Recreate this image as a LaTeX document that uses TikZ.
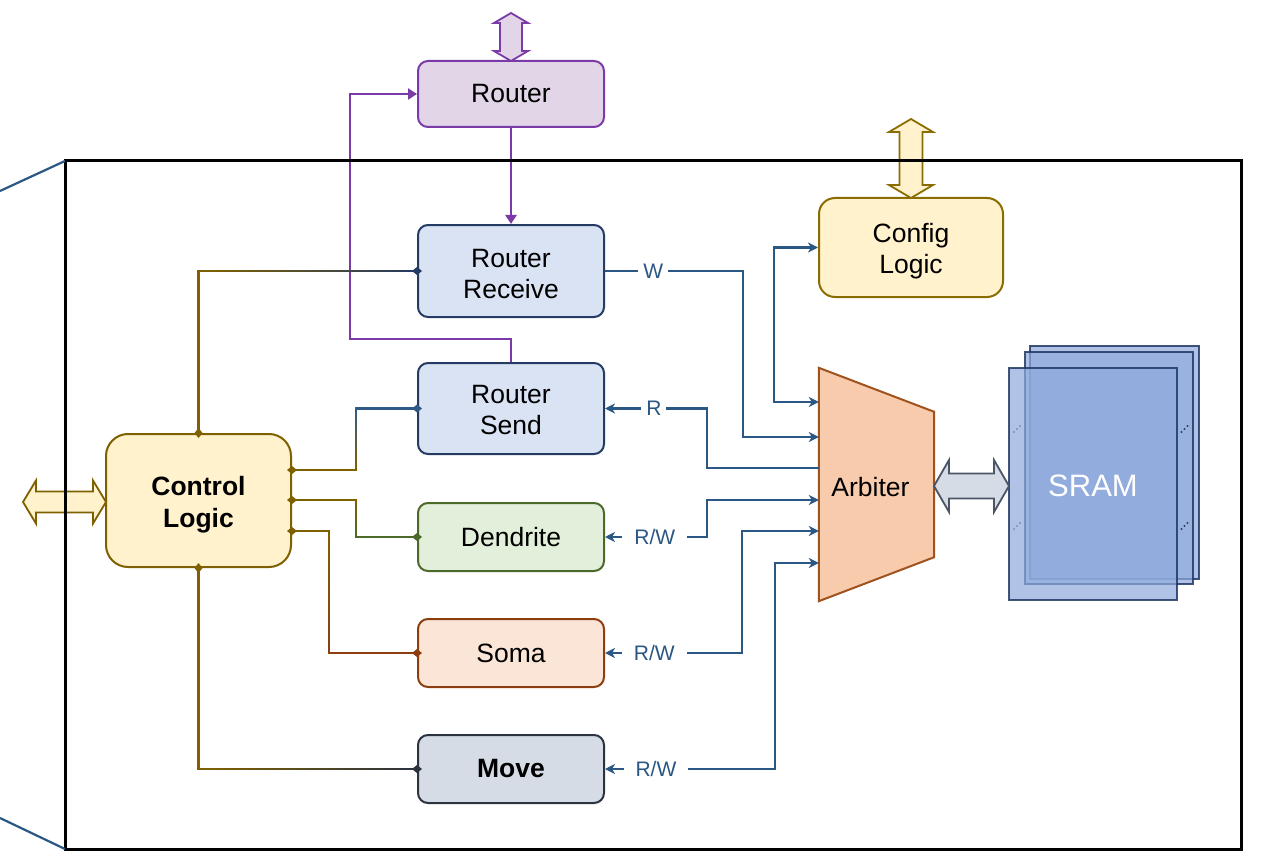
\documentclass[tikz,border=0pt]{standalone}
\usepackage{fontspec}
\setmainfont{Liberation Sans}
\usetikzlibrary{arrows.meta,calc}
\definecolor{blueline}{HTML}{2A5783}
\definecolor{purp}{HTML}{7A3BA8}
\definecolor{routerfill}{HTML}{E1D5E7}
\definecolor{bluefill}{HTML}{DAE3F3}
\definecolor{navy}{HTML}{243B63}
\definecolor{sendblue}{HTML}{2F5A88}
\definecolor{dendfill}{HTML}{E2EFDA}
\definecolor{dendgreen}{HTML}{4B6A2A}
\definecolor{somafill}{HTML}{FBE5D6}
\definecolor{somarust}{HTML}{8C3E10}
\definecolor{movefill}{HTML}{D6DCE5}
\definecolor{movedark}{HTML}{2B3340}
\definecolor{ctrlfill}{HTML}{FFF2CC}
\definecolor{ctrlbrown}{HTML}{7F6000}
\definecolor{configbrown}{HTML}{8A6D00}
\definecolor{arbfill}{HTML}{F8CBAD}
\definecolor{arbline}{HTML}{A0521E}
\definecolor{sramfill}{HTML}{8FAADC}
\definecolor{sramline}{HTML}{1F3864}
\definecolor{slate}{HTML}{4A5568}
\definecolor{dotl}{HTML}{7F90B0}
\definecolor{dotr}{HTML}{2F3F5F}

\newcommand\gradline[4]{%
  \foreach \i in {0,...,23}{%
    \pgfmathtruncatemacro\pp{100*\i/23}%
    \draw[line width=2.2pt, color=#4!\pp!#3] ($(#1)!\i/24!(#2)$) -- ($(#1)!{(\i+1)/24}!(#2)$);
  }}
\newcommand\fatH[7]{\draw[#7] (#1,#3) -- ({#1+#4},{#3-#5}) -- ({#1+#4},{#3-#6}) -- ({#2-#4},{#3-#6}) -- ({#2-#4},{#3-#5}) -- (#2,#3) -- ({#2-#4},{#3+#5}) -- ({#2-#4},{#3+#6}) -- ({#1+#4},{#3+#6}) -- ({#1+#4},{#3+#5}) -- cycle;}
\newcommand\fatV[7]{\draw[#7] (#1,#2) -- ({#1-#5},{#2+#4}) -- ({#1-#6},{#2+#4}) -- ({#1-#6},{#3-#4}) -- ({#1-#5},{#3-#4}) -- (#1,#3) -- ({#1+#5},{#3-#4}) -- ({#1+#6},{#3-#4}) -- ({#1+#6},{#2+#4}) -- ({#1+#5},{#2+#4}) -- cycle;}

\tikzset{
  txt/.style={font=\fontsize{26.5}{31}\selectfont},
  btxt/.style={font=\fontsize{26.5}{32}\selectfont\bfseries},
  box/.style={draw, line width=2pt, rounded corners=10pt, minimum width=186pt, align=center,
    txt, inner sep=0pt},
  lbl/.style={fill=white, text=blueline, font=\fontsize{21}{24}\selectfont, inner xsep=5pt, inner ysep=2pt},
  lblw/.style={lbl, inner xsep=12pt},
  bl/.style={draw=blueline, line width=2.2pt},
  pu/.style={draw=purp, line width=2.2pt},
  ct/.style={draw=ctrlbrown, line width=2.2pt, shorten <=-5pt, shorten >=-5pt},
  fat/.style={line width=1.8pt, line join=miter},
}

\begin{document}
\begin{tikzpicture}[x=1pt,y=-1pt]
\useasboundingbox (0,0) rectangle (1262,856);

% nodes
\node[box, fill=routerfill, draw=purp, minimum height=66pt] (router) at (511,94) {Router};
\node[box, fill=bluefill, draw=navy, minimum height=92pt,
  label={[txt, align=center, yshift=-3pt]center:Router\\Receive}] (rrecv) at (511,271) {};
\node[box, fill=bluefill, draw=navy, minimum height=91pt,
  label={[txt, align=center, yshift=-2pt]center:Router\\Send}] (rsend) at (511,408.5) {};
\node[box, fill=dendfill, draw=dendgreen, minimum height=68pt] (dend) at (511,537) {Dendrite};
\node[box, fill=somafill, draw=somarust, minimum height=68pt] (soma) at (511,653) {Soma};
\node[box, fill=movefill, draw=movedark, minimum height=68pt, btxt] (move) at (511,769) {Move};
\node[box, fill=ctrlfill, draw=ctrlbrown, rounded corners=22pt, minimum width=185pt, minimum height=133pt,
  label={[btxt, align=center, yshift=-4pt]center:Control\\Logic}] (ctrl) at (198.5,500.5) {};
\node[box, fill=ctrlfill, draw=configbrown, rounded corners=16pt, minimum width=184pt, minimum height=99pt,
  label={[txt, align=center, yshift=-3.5pt]center:Config\\Logic}] (config) at (911,247.5) {};

% arbiter
\node[minimum width=115pt, minimum height=233pt, inner sep=0pt] (arb) at (876.5,484.5) {};
\draw[fill=arbfill, draw=arbline, line width=2pt] (arb.north west) -- ([yshift=-44pt]arb.north east)
  -- ([yshift=44pt]arb.south east) -- (arb.south west) -- cycle;
\node[txt] (arbtext) at (870.5,487) {Arbiter};

% SRAM
\tikzset{sram/.style={draw=sramline, draw opacity=0.85, line width=2pt, fill=sramfill, fill opacity=0.7, inner sep=0pt}}
\node[sram, minimum width=169pt, minimum height=233pt] (s3) at (1114.5,462.5) {};
\node[sram, minimum width=168pt, minimum height=232pt] (s2) at (1109,468) {};
\node[sram, minimum width=168pt, minimum height=232pt] (s1) at (1093,484) {};
\node[text=white, font=\fontsize{31}{36}\selectfont] (sramtext) at (1093,486) {SRAM};
\foreach \px/\py/\c in {1017/429/dotl, 1017/526/dotl, 1184.5/429/dotr, 1184.5/526/dotr}{
  \foreach \d in {-1,0,1}{\fill[\c] ({\px+3*\d},{\py-3*\d}) circle (1.2pt);}
}

% fat arrows
\fatV{511}{13}{61}{10}{17}{11}{fat, fill=routerfill, draw=purp}
\fatV{911}{119}{198}{13}{22}{11.5}{fat, fill=ctrlfill, draw=configbrown}
\fatH{23}{106}{502}{13}{21.5}{10.5}{fat, fill=ctrlfill, draw=ctrlbrown}
\fatH{934}{1009}{486}{15}{26}{12.5}{fat, fill=movefill, draw=slate}

% purple connectors
\draw[pu, -{Triangle[length=9pt,width=11pt]}] (router.south) -- (rrecv.north);
\draw[pu, -{Triangle[length=9pt,width=11pt]}] (rsend.north) -- ++(0,-23) -- ++(-161,0) |- (router.west);

% blue connectors
\tikzset{bt/.tip={Stealth[length=10pt,width=10pt,inset=3pt]}}
\draw[bl, -{bt}] (rrecv.east) -- node[lbl,pos=0.35]{W} ++(138,0) |- ([yshift=47.5pt]arb.west);
\draw[bl, -{bt}] ([yshift=16.5pt]arb.west) -- ++(-112,0) |- node[lbl,pos=0.76]{R} (rsend.east);
\draw[bl, {bt}-{bt}] ([yshift=82.5pt]arb.west) -- ++(-45,0) |- (config.west);
\draw[bl, {bt}-{bt}] ([yshift=-15.5pt]arb.west) -- ++(-112,0) |- node[lblw,pos=0.755]{R/W} (dend.east);
\draw[bl, {bt}-{bt}] ([yshift=-46.5pt]arb.west) -- ++(-77,0) |- node[lblw,pos=0.82]{R/W} (soma.east);
\draw[bl, {bt}-{bt}] ([yshift=-78.5pt]arb.west) -- ++(-44,0) |- node[lblw,pos=0.85]{R/W} (move.east);

% control connectors
\draw[ct, {Diamond[length=10pt,width=8pt]}-{Diamond[length=10pt,width=8pt,color=navy]}] (ctrl.north) |- (rrecv.west);
\gradline{ctrl.north |- rrecv.west}{rrecv.west}{ctrlbrown}{navy}

\draw[ct, {Diamond[length=10pt,width=8pt]}-{Diamond[length=10pt,width=8pt,color=sendblue]}] ([yshift=30.5pt]ctrl.east) -- ++(64,0) coordinate (k1) |- (rsend.west);
\gradline{k1}{k1 |- rsend.west}{ctrlbrown}{sendblue}
\draw[line width=2.2pt, sendblue] (k1 |- rsend.west) -- (rsend.west);

\draw[ct, {Diamond[length=10pt,width=8pt]}-{Diamond[length=10pt,width=8pt,color=dendgreen]}] ([yshift=0.5pt]ctrl.east) -- ++(64,0) coordinate (k2) |- (dend.west);
\gradline{k2}{k2 |- dend.west}{ctrlbrown}{dendgreen}
\draw[line width=2.2pt, dendgreen] (k2 |- dend.west) -- (dend.west);

\draw[ct, {Diamond[length=10pt,width=8pt]}-{Diamond[length=10pt,width=8pt,color=somarust]}] ([yshift=-30.5pt]ctrl.east) -- ++(37,0) coordinate (k3) |- (soma.west);
\gradline{k3}{k3 |- soma.west}{ctrlbrown}{somarust}
\draw[line width=2.2pt, somarust] (k3 |- soma.west) -- (soma.west);

\draw[ct, {Diamond[length=10pt,width=8pt]}-{Diamond[length=10pt,width=8pt,color=movedark]}] (ctrl.south) |- (move.west);
\gradline{ctrl.south |- move.west}{move.west}{ctrlbrown}{movedark}

% frame and side lines
\draw[line width=3pt] (65,161) rectangle (1241,849);
\coordinate (t1) at (0,191);
\coordinate (t2) at (0,818);
\draw[blueline, line width=2.2pt] (t1) -- (65,161);
\draw[blueline, line width=2.2pt] (t2) -- (65,849);
\end{tikzpicture}
\end{document}
